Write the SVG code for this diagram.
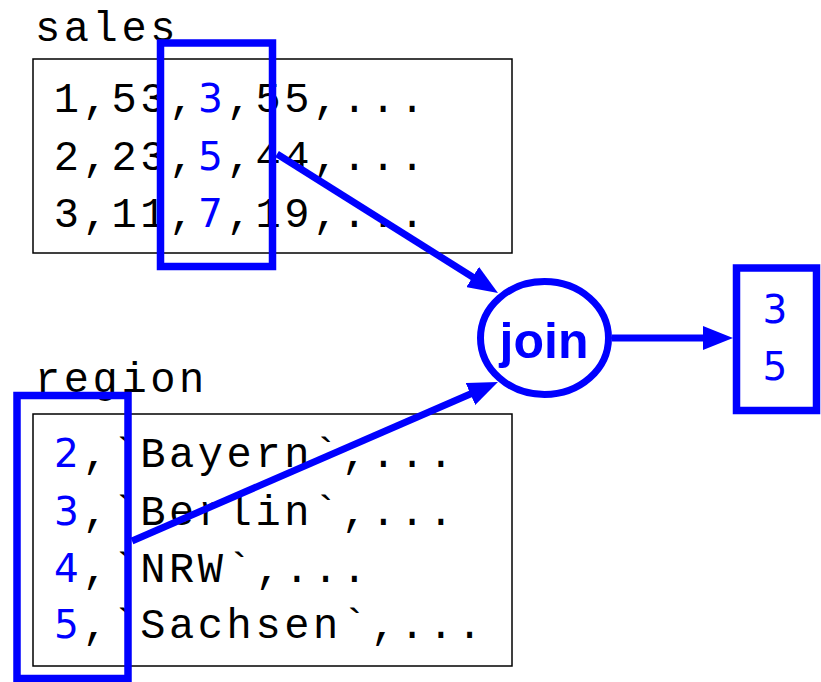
<svg xmlns="http://www.w3.org/2000/svg" width="821" height="682" viewBox="0 0 821 682">
  <style>
    .mono { font-family: "Liberation Mono", "Courier New", monospace; font-size: 42px; letter-spacing: 3.6px; fill: #000; }
    .key { font-family: "DejaVu Sans", "Liberation Sans", sans-serif; font-size: 39px; letter-spacing: 0; fill: #0000ff; }
    .table { fill: #fff; stroke: #000; stroke-width: 1.5; }
    .hl { fill: none; stroke: #0000ff; stroke-width: 7.5; }
    .edge { fill: none; stroke: #0000ff; stroke-width: 7; }
    .op { font-family: "Liberation Sans", Arial, sans-serif; font-weight: bold; font-size: 50px; fill: #0000ff; }
  </style>
  <defs>
    <marker id="head" markerUnits="userSpaceOnUse" markerWidth="30" markerHeight="24" refX="15" refY="12" orient="auto">
      <path d="M0,0 L30,12 L0,24 z" fill="#0000ff"/>
    </marker>
  </defs>

  <rect width="821" height="682" fill="#fff"/>

  <!-- sales table -->
  <g id="sales">
    <text class="mono" x="35" y="41">sales</text>
    <rect class="table" x="33" y="59" width="479" height="194"/>
    <text class="mono" y="112"><tspan x="53.8">1,53,</tspan><tspan class="key" x="210.4" text-anchor="middle">3</tspan><tspan x="226.6">,55,...</tspan></text>
    <text class="mono" y="170"><tspan x="53.8">2,23,</tspan><tspan class="key" x="210.4" text-anchor="middle">5</tspan><tspan x="226.6">,44,...</tspan></text>
    <text class="mono" y="227"><tspan x="53.8">3,11,</tspan><tspan class="key" x="210.4" text-anchor="middle">7</tspan><tspan x="226.6">,19,...</tspan></text>
    <rect class="hl" x="160.5" y="43" width="112" height="223.5"/>
  </g>

  <!-- region table -->
  <g id="region">
    <text class="mono" x="35" y="392">region</text>
    <rect class="table" x="33" y="414" width="479" height="252"/>
    <text class="mono" y="467"><tspan class="key" x="66.4" text-anchor="middle">2</tspan><tspan x="82.6">,`Bayern`,...</tspan></text>
    <text class="mono" y="525"><tspan class="key" x="66.4" text-anchor="middle">3</tspan><tspan x="82.6">,`Berlin`,...</tspan></text>
    <text class="mono" y="582"><tspan class="key" x="66.4" text-anchor="middle">4</tspan><tspan x="82.6">,`NRW`,...</tspan></text>
    <text class="mono" y="638"><tspan class="key" x="66.4" text-anchor="middle">5</tspan><tspan x="82.6">,`Sachsen`,...</tspan></text>
    <rect class="hl" x="17" y="395.5" width="111" height="283"/>
  </g>

  <!-- join operator -->
  <g id="join">
    <ellipse cx="544.5" cy="338" rx="64" ry="56.5" fill="#fff" stroke="#0000ff" stroke-width="7"/>
    <text class="op" x="544" y="358" text-anchor="middle">join</text>
  </g>

  <!-- join result -->
  <g id="result">
    <rect class="hl" x="736.5" y="268" width="80" height="142.5" fill="#fff"/>
    <text class="key" x="775" y="323" text-anchor="middle">3</text>
    <text class="key" x="775" y="380" text-anchor="middle">5</text>
  </g>

  <!-- connectors -->
  <g id="connectors">
    <line class="edge" x1="277" y1="154" x2="485.3" y2="285" marker-end="url(#head)"/>
    <line class="edge" x1="132" y1="541" x2="484.2" y2="388" marker-end="url(#head)"/>
    <line class="edge" x1="612" y1="338" x2="718" y2="338" marker-end="url(#head)"/>
  </g>
</svg>
